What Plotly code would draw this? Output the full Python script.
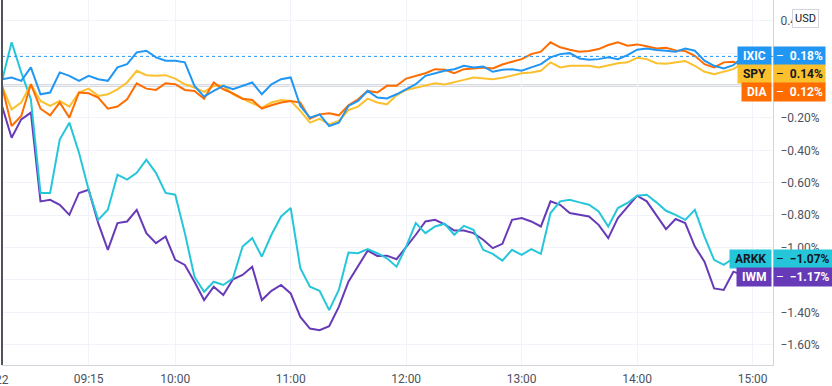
import pandas as pd
import plotly.graph_objects as go

# 5-minute timestamps, 08:30 .. 14:55 (exchange local time shown on chart)
times = pd.date_range("2021-03-22 08:30", periods=78, freq="5min")

ixic = [0.039, 0.050, 0.029, 0.112, -0.054, -0.043, 0.081, 0.060, 0.029, 0.060,
        0.039, 0.029, 0.112, 0.132, 0.205, 0.215, 0.174, 0.153, 0.153, 0.143,
        -0.002, -0.068, -0.033, -0.002, -0.023, -0.002, 0.019, -0.054, 0.008, 0.039,
        0.050, -0.126, -0.198, -0.178, -0.250, -0.229, -0.126, -0.095, -0.033, -0.074,
        -0.080, -0.054, -0.023, 0.008, 0.060, 0.076, 0.091, 0.101, 0.122, 0.112,
        0.118, 0.085, 0.097, 0.101, 0.091, 0.112, 0.132, 0.174, 0.194, 0.200,
        0.167, 0.159, 0.163, 0.174, 0.163, 0.188, 0.221, 0.229, 0.219, 0.215,
        0.209, 0.229, 0.215, 0.153, 0.122, 0.105, 0.126, 0.180]

spy = [-0.002, -0.147, -0.105, 0.008, -0.095, -0.126, -0.095, -0.130, -0.043, -0.019,
       -0.064, -0.054, -0.023, 0.019, 0.091, 0.064, 0.060, 0.064, 0.043, 0.008,
       -0.012, -0.039, -0.002, -0.002, -0.054, -0.081, -0.110, -0.136, -0.105, -0.089,
       -0.095, -0.157, -0.229, -0.205, -0.240, -0.219, -0.151, -0.130, -0.081, -0.105,
       -0.116, -0.060, -0.027, -0.014, -0.002, 0.014, 0.006, 0.019, 0.035, 0.050,
       0.045, 0.039, 0.048, 0.064, 0.076, 0.081, 0.091, 0.143, 0.112, 0.122,
       0.122, 0.122, 0.112, 0.126, 0.138, 0.143, 0.171, 0.163, 0.138, 0.134,
       0.143, 0.151, 0.122, 0.085, 0.070, 0.085, 0.101, 0.140]

dia = [-0.002, -0.250, -0.188, 0.008, -0.143, -0.184, -0.105, -0.198, -0.043, -0.048,
       -0.074, -0.143, -0.130, -0.085, 0.014, -0.019, -0.027, 0.014, 0.008, -0.027,
       -0.033, -0.081, 0.019, -0.023, -0.048, -0.081, -0.089, -0.143, -0.122, -0.105,
       -0.095, -0.105, -0.205, -0.178, -0.171, -0.184, -0.122, -0.085, -0.033, -0.043,
       -0.002, -0.002, 0.043, 0.060, 0.076, 0.101, 0.097, 0.076, 0.101, 0.105,
       0.112, 0.105, 0.130, 0.147, 0.163, 0.194, 0.209, 0.267, 0.236, 0.221,
       0.209, 0.213, 0.225, 0.250, 0.267, 0.246, 0.254, 0.242, 0.229, 0.233,
       0.217, 0.213, 0.184, 0.132, 0.112, 0.143, 0.147, 0.120]

arkk = [0.029, 0.267, 0.081, -0.085, -0.663, -0.663, -0.333, -0.229, -0.415, -0.643,
        -0.829, -0.767, -0.550, -0.581, -0.539, -0.457, -0.539, -0.663, -0.674, -0.911,
        -1.180, -1.273, -1.211, -1.231, -1.190, -0.994, -0.942, -1.056, -0.921, -0.808,
        -0.756, -1.128, -1.242, -1.267, -1.386, -1.262, -1.031, -1.035, -1.010, -1.035,
        -1.066, -1.118, -0.994, -0.849, -0.911, -0.870, -0.853, -0.921, -0.866, -0.890,
        -1.014, -1.039, -1.081, -1.014, -1.045, -1.010, -1.039, -0.787, -0.715, -0.705,
        -0.721, -0.736, -0.777, -0.870, -0.756, -0.725, -0.680, -0.674, -0.721, -0.773,
        -0.798, -0.829, -0.767, -0.932, -1.076, -1.107, -1.066, -1.070]

iwm = [-0.126, -0.322, -0.209, -0.167, -0.715, -0.705, -0.736, -0.798, -0.663, -0.643,
       -0.849, -1.014, -0.849, -0.839, -0.767, -0.911, -0.973, -0.932, -1.076, -1.107,
       -1.211, -1.324, -1.242, -1.293, -1.196, -1.169, -1.118, -1.324, -1.267, -1.231,
       -1.283, -1.428, -1.500, -1.510, -1.486, -1.366, -1.211, -1.118, -1.019, -1.052,
       -1.050, -1.072, -0.998, -0.921, -0.839, -0.829, -0.857, -0.895, -0.895, -0.911,
       -0.952, -1.004, -0.977, -0.829, -0.818, -0.839, -0.870, -0.715, -0.736, -0.787,
       -0.798, -0.808, -0.860, -0.942, -0.818, -0.750, -0.680, -0.715, -0.798, -0.886,
       -0.824, -0.849, -0.994, -1.087, -1.252, -1.262, -1.149, -1.170]

symbols = ["IWM", "ARKK", "SPY", "DIA", "IXIC"]
series = {"IXIC": ixic, "SPY": spy, "DIA": dia, "ARKK": arkk, "IWM": iwm}
colors = {"IXIC": "#2196F3", "SPY": "#FBC02D", "DIA": "#FF6D00",
          "ARKK": "#26C6DA", "IWM": "#673AB7"}
label_text_color = {"IXIC": "#ffffff", "SPY": "#131722", "DIA": "#ffffff",
                    "ARKK": "#131722", "IWM": "#ffffff"}

y_ticks = [0.4, 0.2, 0.0, -0.2, -0.4, -0.6, -0.8, -1.0, -1.2, -1.4, -1.6]
y_ticktext = ["0.40%", "", "", "−0.20%", "−0.40%", "−0.60%", "−0.80%", "−1.00%",
              "−1.20%", "−1.40%", "−1.60%"]
x_ticks = ["2021-03-22 09:15", "2021-03-22 10:00", "2021-03-22 11:00",
           "2021-03-22 12:00", "2021-03-22 13:00", "2021-03-22 14:00", "2021-03-22 15:00"]
x_ticktext = ["09:15", "10:00", "11:00", "12:00", "13:00", "14:00", "15:00"]
day_label = "22"

Y_RANGE = [-1.725, 0.528]
X_RANGE = ["2021-03-22 08:30", "2021-03-22 15:10:36"]
FONT = "Roboto, 'Open Sans', sans-serif"
TXT = "#4c525e"

fig = go.Figure()
for s in symbols:
    fig.add_trace(go.Scatter(x=times, y=series[s], mode="lines", name=s,
                             line=dict(color=colors[s], width=2), hoverinfo="skip"))

# zero baseline and last-value dotted line of the main symbol
fig.add_hline(y=0, line=dict(color="#b2b5be", width=2), layer="below")
fig.add_hline(y=ixic[-1], line=dict(color="#2196F3", width=1, dash="dot"))

# right-edge labels with simple collision avoidance
plot_h = 386 - 21
px_per_unit = plot_h / (Y_RANGE[1] - Y_RANGE[0])
box_h = 18 / px_per_unit
order = sorted(series.keys(), key=lambda s: -series[s][-1])
placed = []
prev = None
for s in order:
    yv = series[s][-1]
    if prev is not None and prev - yv < box_h:
        yv = prev - box_h
    placed.append((s, yv))
    prev = yv

annotations = []
for s, yv in placed:
    last = series[s][-1]
    txt = ("−" if last < 0 else "") + f"{abs(last):.2f}%"
    annotations.append(dict(x=1, xref="paper", y=yv, yref="y", xanchor="right",
                            yanchor="middle", text=f"&nbsp;<b>{s}</b>&nbsp;", showarrow=False,
                            bgcolor=colors[s], borderpad=2, xshift=-1,
                            font=dict(family=FONT, size=12, color=label_text_color[s])))
    annotations.append(dict(x=1, xref="paper", y=yv, yref="y", xanchor="left",
                            yanchor="middle", text=f"–  <b>{txt}</b>", showarrow=False,
                            bgcolor=colors[s], borderpad=2, xshift=0,
                            font=dict(family=FONT, size=12, color=label_text_color[s])))

annotations.append(dict(x=1, xref="paper", xanchor="left", xshift=19, y=1, yref="paper",
                        yanchor="top", yshift=-9, text="USD", showarrow=False,
                        bgcolor="#ffffff", bordercolor="#d1d4dc", borderwidth=1, borderpad=2,
                        font=dict(family=FONT, size=11, color="#131722")))
# day label at the very left edge (partly clipped, as in the original)
annotations.append(dict(x=X_RANGE[0], xref="x", xanchor="center", y=0, yref="paper",
                        yanchor="top", yshift=-6, text=day_label, showarrow=False,
                        font=dict(family=FONT, size=12, color=TXT)))

fig.update_layout(
    width=832, height=386,
    margin=dict(l=2, r=59, t=0, b=21),
    paper_bgcolor="#ffffff", plot_bgcolor="#ffffff",
    showlegend=False,
    font=dict(family=FONT, size=12, color=TXT),
    annotations=annotations,
    xaxis=dict(type="date", range=X_RANGE, tickvals=x_ticks, ticktext=x_ticktext,
               showgrid=True, gridcolor="#f0f3fa", gridwidth=1, zeroline=False,
               showline=True, linecolor="#d1d4dc", linewidth=1, ticks="",
               ticklabelstandoff=3,
               tickfont=dict(size=12, color=TXT), fixedrange=True),
    yaxis=dict(side="right", range=Y_RANGE, tickvals=y_ticks, ticktext=y_ticktext,
               showgrid=True, gridcolor="#f0f3fa", gridwidth=1, zeroline=False,
               showline=True, linecolor="#d1d4dc", linewidth=1, ticks="",
               ticklabelstandoff=4, tickfont=dict(size=12, color=TXT),
               fixedrange=True),
)
fig.add_shape(type="line", xref="paper", yref="paper", x0=0, x1=0, y0=0, y1=1,
              line=dict(color="#50535e", width=2))
# vertical grid line at the session start
fig.add_shape(type="line", xref="x", yref="paper", x0=X_RANGE[0], x1=X_RANGE[0], y0=0, y1=1,
              line=dict(color="#f0f3fa", width=1), layer="below")

fig.write_html("out.html", config={"displayModeBar": False},
               post_script="document.body.style.margin='0';document.body.style.overflow='hidden';")
